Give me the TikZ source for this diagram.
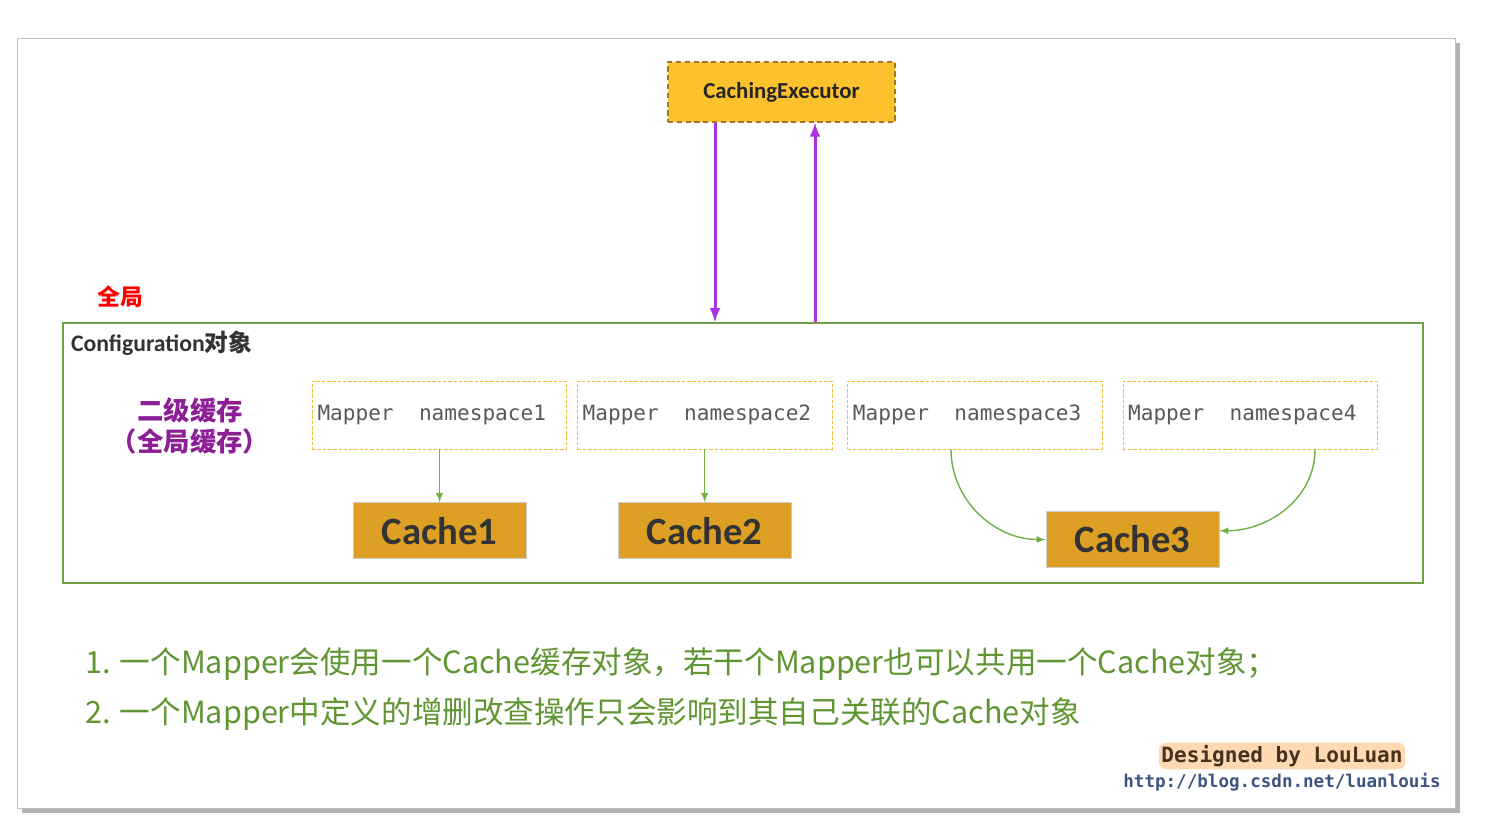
\documentclass[tikz,border=0pt]{standalone}
\usepackage{fontspec}
\setmainfont{Carlito}
\newfontfamily\cjk{Noto Sans CJK SC}
\newfontfamily\code{DejaVu Sans Mono}
\usetikzlibrary{positioning,shadows}
\definecolor{execyellow}{RGB}{252,194,45}
\definecolor{execedge}{RGB}{160,120,40}
\definecolor{cachegold}{RGB}{221,160,36}
\definecolor{callpurple}{RGB}{170,50,225}
\definecolor{cfggreen}{RGB}{112,160,70}
\definecolor{linkgreen}{RGB}{112,176,70}
\definecolor{notegreen}{RGB}{96,150,50}
\definecolor{mapedge}{RGB}{245,188,55}
\definecolor{tagpurple}{RGB}{140,30,150}
\definecolor{urlblue}{RGB}{60,85,130}
\newcommand\gap{\hspace{1.204em}}
\tikzset{
  execbox/.style={draw=execedge,densely dashed,thick,fill=execyellow,minimum width=4.54cm,minimum height=1.2cm,font=\bfseries\fontsize{13}{15}\selectfont,text=black!85},
  cfgbox/.style={draw=cfggreen,line width=1.1pt,minimum width=27.2cm,minimum height=5.2cm},
  mapper/.style={draw=mapedge,dash pattern=on 2pt off 1pt,fill=white,minimum height=1.36cm,text width=4.88cm,align=left,inner sep=3pt,font=\code\fontsize{12}{14}\selectfont,text=black!65},
  cache/.style={draw=black!20,fill=cachegold,minimum width=3.46cm,minimum height=1.12cm,font=\bfseries\fontsize{22}{26}\selectfont,text=black!80},
  link/.style={draw=linkgreen,line width=.8pt},
  call/.style={draw=callpurple,line width=1.7pt},
  note/.style={anchor=west,inner sep=0pt,text=notegreen,font=\cjk\fontsize{17.4}{20}\selectfont}
}
\begin{document}
\begin{tikzpicture}[>=latex, x=.02cm, y=.02cm]
\useasboundingbox (0,0) rectangle (1496,-832);
\draw[black!25,fill=white,drop shadow={shadow xshift=3pt,shadow yshift=-3pt,opacity=.6}] (17,-38) rectangle (1455,-808);
\node[execbox] (exec) at (781.5,-92) {CachingExecutor};
\node[cfgbox] (config) at (743,-453) {};
\node[anchor=north west,inner sep=2pt,text=black!80,font=\bfseries\fontsize{13.5}{15}\selectfont] (cfgname) at ([shift={(5,-5)}]config.north west) {Configuration{\cjk 对象}};
\node[text=red,font=\cjk\bfseries\fontsize{13}{15}\selectfont] (scope) at (120,-297) {全局};
\node[align=center,text=tagpurple,font=\cjk\bfseries\fontsize{15}{17.6}\selectfont] (level) at (190,-426) {二级缓存\\（全局缓存）};
\node[mapper] (m1) at (439.5,-415) {Mapper\gap namespace1};
\node[mapper,right=2mm of m1] (m2) {Mapper\gap namespace2};
\node[mapper,right=3mm of m2] (m3) {Mapper\gap namespace3};
\node[mapper,right=4mm of m3] (m4) {Mapper\gap namespace4};
\node[cache,below=1.06cm of m1] (c1) {Cache1};
\node[cache,below=1.06cm of m2] (c2) {Cache2};
\node[cache] (c3) at (1132.5,-539.5) {Cache3};
\draw[link,->] (m1) -- (c1);
\draw[link,->] (m2) -- (c2);
\draw[link,->] (m3.south -| 951,0) to[out=-90,in=180] (c3.west);
\draw[link,->] (m4.south -| 1315,0) to[out=-90,in=0] ([yshift=5]c3.east);
\draw[call,->] (exec.south -| 715,0) -- (config.north -| 715,0);
\draw[call,->] (config.north -| 815,0) -- (exec.south -| 815,0);
\node[note] (note1) at (85,-664) {1. 一个Mapper会使用一个Cache缓存对象，若干个Mapper也可以共用一个Cache对象；};
\node[note] (note2) at (85,-714) {2. 一个Mapper中定义的增删改查操作只会影响到其自己关联的Cache对象};
\node[fill=orange!30,rounded corners=4pt,inner sep=1.5pt,text={rgb,255:red,70;green,50;blue,30},font=\code\bfseries\fontsize{12}{14}\selectfont] (sign) at (1282,-756) {Designed by LouLuan};
\node[text=urlblue,font=\code\bfseries\fontsize{10}{12}\selectfont] (url) at (1282,-782) {http://blog.csdn.net/luanlouis};
\end{tikzpicture}
\end{document}
